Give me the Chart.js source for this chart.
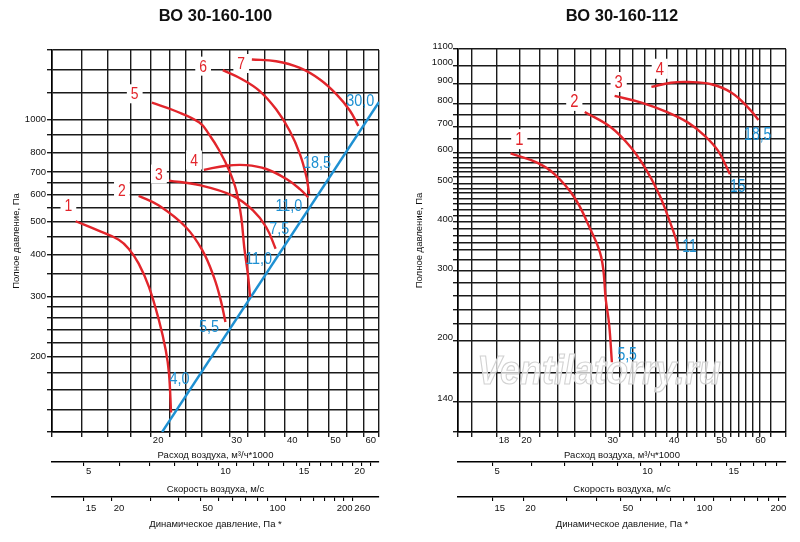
<!DOCTYPE html>
<html>
<head>
<meta charset="utf-8">
<script src="https://cdn.jsdelivr.net/npm/chart.js@4.4.1/dist/chart.umd.min.js"></script>
<style>
  body { margin: 0; background: #fff; }
  canvas { position: absolute; top: 0; }
</style>
</head>
<body>
<canvas id="left" width="400" height="542" style="left:0"></canvas>
<canvas id="right" width="400" height="542" style="left:400px"></canvas>
<script>
// ---- ВО 30-160-100 : расход (тыс. м3/ч) / полное давление (Па) ----
const leftCurve1 = [[13.56,501],[15.26,470],[16.94,442],[17.83,416],[18.78,376],[19.8,321],[20.85,256],[21.6,209],[21.96,179],[22.2,137]];
const leftCurve2 = [[18.78,595],[20.85,557],[23.97,481],[26.1,411],[27.7,343],[28.7,293],[29.4,253]];
const leftCurve3 = [[21.96,660],[25.7,640],[30.5,596],[33.9,539],[36.3,481],[38.1,416]];
const leftCurve4 = [[26.3,710],[29.5,730],[32.7,733],[36.3,714],[40.3,667],[43.2,623],[45.1,589]];
const leftCurve5 = [[20.1,1119],[22.7,1058],[25.7,978],[27.0,904],[28.5,808],[30.0,705],[31.1,616],[31.9,515],[32.4,420],[33.0,351],[33.4,300]];
const leftCurve6 = [[29.0,1396],[32.1,1310],[35.1,1211],[38.2,1070],[41.0,924],[43.2,790],[44.7,675],[45.3,603]];
const leftCurve7 = [[33.7,1500],[38.2,1483],[43.2,1417],[47.9,1310],[52.2,1184],[56.0,1058],[58.4,956]];
const leftSystem = [[21.2,120],[65,1125]];

const leftXGrid = [12,14,16,18,20,22,24,26,30,33,36,40,45,50,55,60,65];
const leftXLabels = [20,30,40,50,60];
const leftYGrid = [120,140,160,180,200,220,240,260,280,300,350,400,450,500,550,600,650,700,800,900,1000,1200,1400,1600];
const leftYLabels = [200,300,400,500,600,700,800,1000];
const leftVelRange = [4.24, 22.95];
const leftVelTicks = [5,6,7,8,9,10,11,12,13,14,15,16,17,18,19,20,21,22];
const leftVelLabels = [5,10,15,20];
const leftPdRange = [10.8, 316];
const leftPdTicks = [15,20,30,40,50,60,70,80,90,100,120,140,160,180,200,220,240];
const leftPdLabelAt = [15,20,50,100,200,240];
const leftPdLabelText = ['15','20','50','100','200','260'];

const leftCurveNames = [['1',13.06,557],['2',17.22,616],['3',20.85,690],['4',25.0,759],['5',18.4,1189],['6',26.2,1434],['7',31.9,1460]];
const leftPowerNames = [['30,0',59.0,1137],['18,5',47.2,746],['11,0',40.8,557],['7,5',38.8,476],['11,0',34.9,389],['5,5',27.0,246],['4,0',23.2,172]];

// ---- ВО 30-160-112 ----
const rightCurve1 = [[19.2,597],[21.8,565],[23.6,529],[25.9,462],[27.8,388],[29.4,325],[30.05,252],[30.5,220],[30.9,176]];
const rightCurve2 = [[27.2,761],[30.8,695],[33.8,618],[36.4,540],[38.7,466],[40.5,403],[41.7,363],[42.2,340]];
const rightCurve3 = [[31.3,836],[35.5,804],[40.2,759],[44.2,715],[47.8,662],[50.9,606],[53.8,529]];
const rightCurve4 = [[37.2,881],[40.8,903],[44.2,907],[49.3,895],[54.2,852],[58.6,781],[61.5,726]];

const rightXGrid = [15,16,18,20,22,24,26,28,30,32,34,36,38,40,42,44,46,48,50,52,54,56,58,60,62,65,70];
const rightXLabels = [18,20,30,40,50,60];
const rightYGrid = [117,140,166,200,220,240,260,280,300,320,340,355,370,385,400,414,429,444,458,474,487,500,520,536,550,566,582,600,650,700,750,800,900,1000,1100];
const rightYLabels = [140,200,300,400,500,600,700,800,900,1000,1100];
const rightVelRange = [4.25, 19.83];
const rightVelTicks = [5,6,7,8,9,10,11,12,13,14,15,16,17,18,19];
const rightVelLabels = [5,10,15];
const rightPdRange = [10.84, 236];
const rightPdTicks = [15,20,30,40,50,60,70,80,90,100,120,140,160,180,200,220];
const rightPdLabelAt = [15,20,50,100,200];
const rightPdLabelText = ['15','20','50','100','200'];

const rightCurveNames = [['1',20.0,649],['2',25.9,812],['3',31.9,907],['4',38.7,980]];
const rightPowerNames = [['18,5',61.3,669],['15',55.8,494],['11',44.5,348],['5,5',33.2,185]];

const RED = '#e2252b';
const BLUE = '#1e90d2';
const GRID = '#1a1a1a';
const FONT = '"Liberation Sans", Arial, sans-serif';

Chart.defaults.font.family = FONT;
Chart.defaults.color = '#111';

function fixedTicks(values) {
  return (scale) => { scale.ticks = values.map(v => ({ value: v })); };
}
function tickText(at, texts) {
  return (value) => {
    const i = at.indexOf(value);
    return i < 0 ? '' : texts[i];
  };
}
function toPoints(arr) {
  return arr.map(([x, y]) => ({ x, y }));
}

function extraAxis(range, ticks, labelAt, labelText, title, weight, h, pad, titlePad) {
  return {
    type: 'logarithmic', axis: 'x', position: 'bottom', weight: weight,
    min: range[0], max: range[1], bounds: 'data',
    afterBuildTicks: fixedTicks(ticks),
    afterFit: (s) => { s.height = h; },
    grid: { drawOnChartArea: false, drawTicks: true, tickLength: 4, color: '#000', lineWidth: 1.1 },
    border: { display: true, color: '#000', width: 1.4 },
    ticks: { autoSkip: false, maxRotation: 0, minRotation: 0, align: 'start', labelOffset: 2,
             padding: pad, font: { size: 9.5 }, callback: tickText(labelAt, labelText) },
    title: { display: true, text: title, font: { size: 9.5 }, padding: { top: 0, bottom: titlePad } }
  };
}

// узкий шрифт: сжимаем текст по горизонтали
function narrowText(ctx, t, x, y, sx) {
  ctx.save();
  ctx.translate(x, y);
  ctx.scale(sx, 1);
  ctx.fillText(t, 0, 0);
  ctx.restore();
}

function drawMarks(chart, spec) {
  const { ctx, chartArea, scales } = chart;
  ctx.save();
  ctx.fillStyle = '#111';
  ctx.font = 'bold 16.5px ' + FONT;
  ctx.textAlign = 'center';
  ctx.textBaseline = 'middle';
  ctx.fillText(spec.title, (chartArea.left + chartArea.right) / 2, 16);
  // номера кривых
  ctx.font = spec.redSize + 'px ' + FONT;
  spec.curveNames.forEach(([t, q, p]) => {
    const x = scales.x.getPixelForValue(q);
    const y = scales.y.getPixelForValue(p);
    const w = ctx.measureText(t).width * spec.redScale + 8;
    const h = spec.redSize + 2;
    ctx.fillStyle = '#fff';
    ctx.fillRect(x - w / 2, y - h / 2, w, h);
    ctx.fillStyle = RED;
    narrowText(ctx, t, x, y + 1, spec.redScale);
  });
  // мощность двигателя, кВт
  ctx.font = spec.blueSize + 'px ' + FONT;
  ctx.fillStyle = BLUE;
  spec.powerNames.forEach(([t, q, p]) => {
    narrowText(ctx, t, scales.x.getPixelForValue(q), scales.y.getPixelForValue(p) + 1, spec.blueScale);
  });
  ctx.restore();
}

function drawWatermark(chart) {
  const { ctx, chartArea } = chart;
  ctx.save();
  ctx.font = 'italic bold 40px ' + FONT;
  ctx.textAlign = 'center';
  ctx.textBaseline = 'middle';
  const x = chartArea.left + 0.43 * (chartArea.right - chartArea.left);
  const y = chartArea.top + 0.845 * (chartArea.bottom - chartArea.top);
  ctx.translate(x, y);
  ctx.scale(0.9, 1);
  ctx.fillStyle = 'rgba(255,255,255,0.7)';
  ctx.fillText('Ventilatorry.ru', 0, 0);
  ctx.strokeStyle = '#d2d2d2';
  ctx.lineWidth = 1.2;
  ctx.strokeText('Ventilatorry.ru', 0, 0);
  ctx.restore();
}

function buildChart(id, spec) {
  const datasets = spec.curves.map(c => ({
    data: toPoints(c), showLine: true, borderColor: RED, borderWidth: 2.4,
    pointRadius: 0, tension: 0.4
  }));
  if (spec.system) {
    datasets.push({ data: toPoints(spec.system), showLine: true, borderColor: BLUE,
                    borderWidth: 2.4, pointRadius: 0, tension: 0 });
  }
  new Chart(document.getElementById(id), {
    type: 'scatter',
    data: { datasets },
    options: {
      responsive: false, animation: false, events: [],
      layout: { padding: spec.padding },
      plugins: { legend: { display: false }, tooltip: { enabled: false } },
      scales: {
        x: {
          type: 'logarithmic', position: 'bottom', weight: 0,
          min: spec.xGrid[0], max: spec.xGrid[spec.xGrid.length - 1], bounds: 'data',
          afterBuildTicks: fixedTicks(spec.xGrid),
          afterFit: (s) => { s.height = 30; },
          grid: { color: GRID, lineWidth: 1.4, drawTicks: true, tickLength: 5 },
          border: { display: true, color: '#000', width: 1.6 },
          ticks: { autoSkip: false, maxRotation: 0, minRotation: 0, align: 'start', labelOffset: 2,
                   padding: -2, font: { size: 9.5 },
                   callback: (v) => spec.xLabels.includes(v) ? String(v) : '' },
          title: { display: true, text: 'Расход воздуха, м³/ч*1000', font: { size: 9.5 },
                   padding: { top: 0, bottom: 1 } }
        },
        v: extraAxis(spec.velRange, spec.velTicks, spec.velLabels, spec.velLabels.map(String),
                     'Скорость воздуха, м/с', 1, 35, 0, 2),
        pd: extraAxis(spec.pdRange, spec.pdTicks, spec.pdLabelAt, spec.pdLabelText,
                      'Динамическое давление, Па *', 2, 36, 2, 3),
        y: {
          type: 'logarithmic', position: 'left',
          min: spec.yGrid[0], max: spec.yGrid[spec.yGrid.length - 1], bounds: 'data',
          afterBuildTicks: fixedTicks(spec.yGrid),
          afterFit: (s) => { s.width = spec.yWidth; },
          grid: { color: GRID, lineWidth: 1.4, drawTicks: true, tickLength: 5 },
          border: { display: true, color: '#000', width: 1.6 },
          ticks: { autoSkip: false, padding: spec.yTickPad, labelOffset: spec.yLabelOffset,
                   font: { size: spec.yFont },
                   callback: (v) => spec.yLabels.includes(v) ? String(v) : '' },
          title: { display: true, text: 'Полное давление, Па', font: { size: 9.5 },
                   padding: { top: spec.yTitlePad, bottom: 0 } }
        }
      }
    },
    plugins: [{
      id: 'marks',
      beforeDatasetsDraw(chart) { if (spec.watermark) drawWatermark(chart); },
      afterDatasetsDraw(chart) { drawMarks(chart, spec); }
    }]
  });
}

buildChart('left', {
  title: 'ВО 30-160-100',
  curves: [leftCurve1, leftCurve2, leftCurve3, leftCurve4, leftCurve5, leftCurve6, leftCurve7],
  system: leftSystem,
  xGrid: leftXGrid, xLabels: leftXLabels, yGrid: leftYGrid, yLabels: leftYLabels,
  velRange: leftVelRange, velTicks: leftVelTicks, velLabels: leftVelLabels,
  pdRange: leftPdRange, pdTicks: leftPdTicks, pdLabelAt: leftPdLabelAt, pdLabelText: leftPdLabelText,
  curveNames: leftCurveNames, powerNames: leftPowerNames,
  padding: { left: 0, top: 50, right: 21, bottom: 9 },
  yWidth: 52, yTickPad: 1, yLabelOffset: 0, yFont: 9.5, yTitlePad: 11,
  redSize: 17, redScale: 0.82, blueSize: 16, blueScale: 0.9, watermark: false
});

buildChart('right', {
  title: 'ВО 30-160-112',
  curves: [rightCurve1, rightCurve2, rightCurve3, rightCurve4],
  system: null,
  xGrid: rightXGrid, xLabels: rightXLabels, yGrid: rightYGrid, yLabels: rightYLabels,
  velRange: rightVelRange, velTicks: rightVelTicks, velLabels: rightVelLabels,
  pdRange: rightPdRange, pdTicks: rightPdTicks, pdLabelAt: rightPdLabelAt, pdLabelText: rightPdLabelText,
  curveNames: rightCurveNames, powerNames: rightPowerNames,
  padding: { left: 0, top: 49, right: 14, bottom: 9 },
  yWidth: 58, yTickPad: 0, yLabelOffset: -3, yFont: 9.5, yTitlePad: 14,
  redSize: 18, redScale: 0.82, blueSize: 18, blueScale: 0.78, watermark: true
});
</script>
</body>
</html>
